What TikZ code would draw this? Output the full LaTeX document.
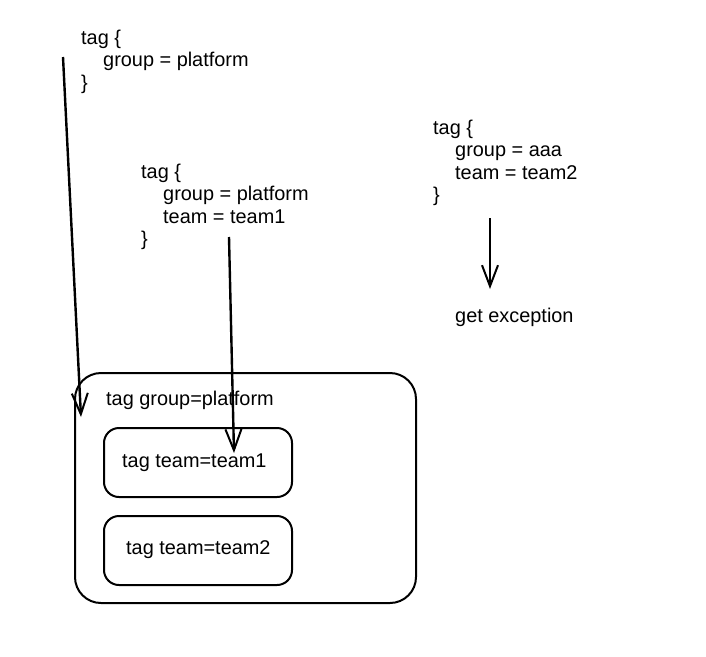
\documentclass[tikz,border=0pt]{standalone}
\usepackage{fontspec}
\setmainfont{Liberation Sans}
\usetikzlibrary{arrows.meta}
\begin{document}
\begin{tikzpicture}[x=1pt,y=-1pt,
  txt/.style={anchor=base west,inner sep=0pt,font=\fontsize{19.9}{23}\selectfont},
  box/.style={draw,line width=2pt,rounded corners=#1},
  arr/.style={line width=2.4pt,-{Straight Barb[length=21pt,width=16pt,line width=2pt]}}]
\useasboundingbox (0,0) rectangle (706,656);
% block 1
\node[txt] (a1) at (81,44) {tag \{};
\node[txt] (a2) at (103,66.5) {group = platform};
\node[txt] (a3) at (81,89) {\}};
% block 2
\node[txt] (b1) at (141,178) {tag \{};
\node[txt] (b2) at (163,200.5) {group = platform};
\node[txt] (b3) at (163,223) {team = team1};
\node[txt] (b4) at (141,245.5) {\}};
% block 3
\node[txt] (c1) at (433,134) {tag \{};
\node[txt] (c2) at (455,156.5) {group = aaa};
\node[txt] (c3) at (455,179) {team = team2};
\node[txt] (c4) at (433,201.5) {\}};
\node[txt] (exc) at (455,322) {get exception};
% boxes
\draw[box=26pt] (75,373) rectangle (416,603);
\node[txt] (g) at (106,405) {tag group=platform};
\draw[box=15pt] (104,428) rectangle (292,497);
\node[txt] (t1) at (122,467) {tag team=team1};
\draw[box=15pt] (104,516) rectangle (292,585);
\node[txt] (t2) at (126,554) {tag team=team2};
% arrows
\coordinate (s1) at (63,57);
\coordinate (e1) at (81,417);
\coordinate (s2) at (229,237);
\coordinate (e2) at (234,453);
\coordinate (s3) at (490,218);
\coordinate (e3) at (490,289);
\draw[arr] (s1) -- (e1);
\draw[arr] (s2) -- (e2);
\draw[arr] (s3) -- (e3);
\end{tikzpicture}
\end{document}
